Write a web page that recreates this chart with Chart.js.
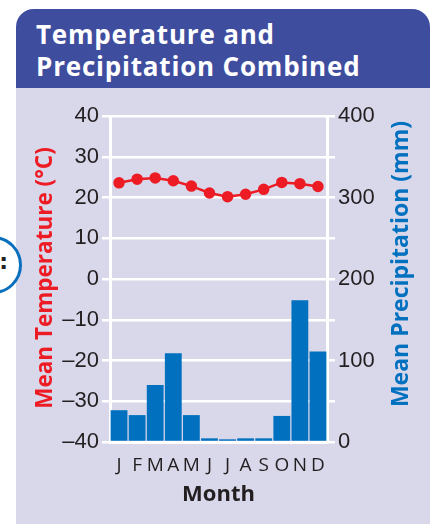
<!DOCTYPE html>
<html>
<head>
<meta charset="utf-8">
<script src="https://cdn.jsdelivr.net/npm/chart.js@4"></script>
<style>
  html, body { margin: 0; padding: 0; background: #fff; width: 434px; height: 524px; overflow: hidden; }
  .panel { position: absolute; left: 16px; top: 9px; width: 414px; height: 530px; background: #d9d8eb; border-radius: 18px 18px 0 0; overflow: hidden; }
  .header { position: absolute; left: 0; top: 0; right: 0; height: 79px; background: #3f4d9f; }
  .header h1 { margin: 0; position: absolute; left: 20px; top: 9px; color: #fff; font: 700 26px/32px "Open Sans", sans-serif; letter-spacing: 0.8px; }
  .bubble { position: absolute; left: -36px; top: 236px; width: 52px; height: 52px; border: 3px solid #0a6fbd; border-radius: 50%; background: #fff; }
  .bubble span { position: absolute; right: 11px; top: 11px; font: 700 22px/24px "DejaVu Sans", sans-serif; color: #222; }
  #wrap { position: absolute; left: 0; top: 0; width: 434px; height: 524px; }
  .ytitle { position: absolute; width: 340px; height: 30px; margin: -15px 0 0 -170px; text-align: center; transform: rotate(-90deg); font: 700 22.5px/30px "Open Sans", sans-serif; white-space: nowrap; }
</style>
</head>
<body>
<div class="panel">
  <div class="header"><h1>Temperature and<br>Precipitation Combined</h1></div>
</div>
<div class="bubble"><span>:</span></div>
<div id="wrap"><canvas id="climateChart" width="434" height="524"></canvas></div>
<div class="ytitle" style="left:44px; top:278px; color:#ed1c24;">Mean Temperature (°C)</div>
<div class="ytitle" style="left:399px; top:264px; color:#0070bf; font-size:23px;">Mean Precipitation (mm)</div>
<script>
// Climate data
const months = ['J', 'F', 'M', 'A', 'M', 'J', 'J', 'A', 'S', 'O', 'N', 'D'];
const temperature = [23.6, 24.5, 24.8, 24.1, 22.8, 21.1, 20.2, 20.8, 22.0, 23.7, 23.4, 22.7];
const precipitation = [39, 33, 70, 109, 33, 4.5, 3.3, 4.5, 4.5, 32, 174, 111];

const tickFont = { family: '"Liberation Sans", Arial, sans-serif', size: 22 };
const titleFamily = '"Open Sans", sans-serif';
const ink = '#231f20';

function fmt(v) {
    return v < 0 ? '\u2013' + Math.abs(v) : String(v);
}

const ctx = document.getElementById('climateChart').getContext('2d');
const climateChart = new Chart(ctx, {
    data: {
        labels: months,
        datasets: [{
            type: 'line',
            label: 'Mean Temperature',
            data: temperature,
            yAxisID: 'yTemp',
            borderColor: '#ed1c24',
            backgroundColor: '#ed1c24',
            borderWidth: 2.5,
            pointRadius: 4.5,
            tension: 0,
            order: 0
        }, {
            type: 'bar',
            label: 'Mean Precipitation',
            data: precipitation,
            yAxisID: 'yPrec',
            backgroundColor: '#0070bf',
            barPercentage: 0.93,
            categoryPercentage: 1,
            order: 1
        }]
    },
    options: {
        responsive: false,
        animation: false,
        layout: { padding: { top: 116, left: 0, right: 0, bottom: 0 } },
        plugins: { legend: { display: false }, tooltip: { enabled: false } },
        scales: {
            x: {
                grid: { display: false },
                border: { color: '#fff', width: 3 },
                ticks: {
                    color: ink, padding: 4, autoSkip: false, maxRotation: 0, minRotation: 0,
                    font: { family: titleFamily, size: 19 }
                },
                title: {
                    display: true, text: 'Month', color: ink,
                    font: { family: titleFamily, size: 22, weight: 'bold' },
                    padding: { top: 0, bottom: 16 }
                },
                afterFit: s => { s.height = 82; }
            },
            yTemp: {
                position: 'left',
                min: -40, max: 40,
                ticks: {
                    stepSize: 5, color: ink, padding: 3, font: tickFont,
                    callback: v => (v % 10 === 0 ? fmt(v) : '')
                },
                grid: {
                    color: c => (c.tick && c.tick.value % 10 === 0 ? '#fff' : 'rgba(0,0,0,0)'),
                    tickColor: '#fff', lineWidth: 2.5, tickLength: 8
                },
                border: { color: '#fff', width: 3 },
                afterFit: s => { s.width = 110; }
            },
            yPrec: {
                position: 'right',
                min: 0, max: 400,
                ticks: {
                    stepSize: 25, color: ink, padding: 3, font: tickFont,
                    callback: v => (v % 100 === 0 ? String(v) : '')
                },
                grid: { drawOnChartArea: false, tickColor: '#fff', lineWidth: 2.5, tickLength: 8 },
                border: { color: '#fff', width: 3 },
                afterFit: s => { s.width = 107; }
            }
        }
    }
});
</script>
</body>
</html>
